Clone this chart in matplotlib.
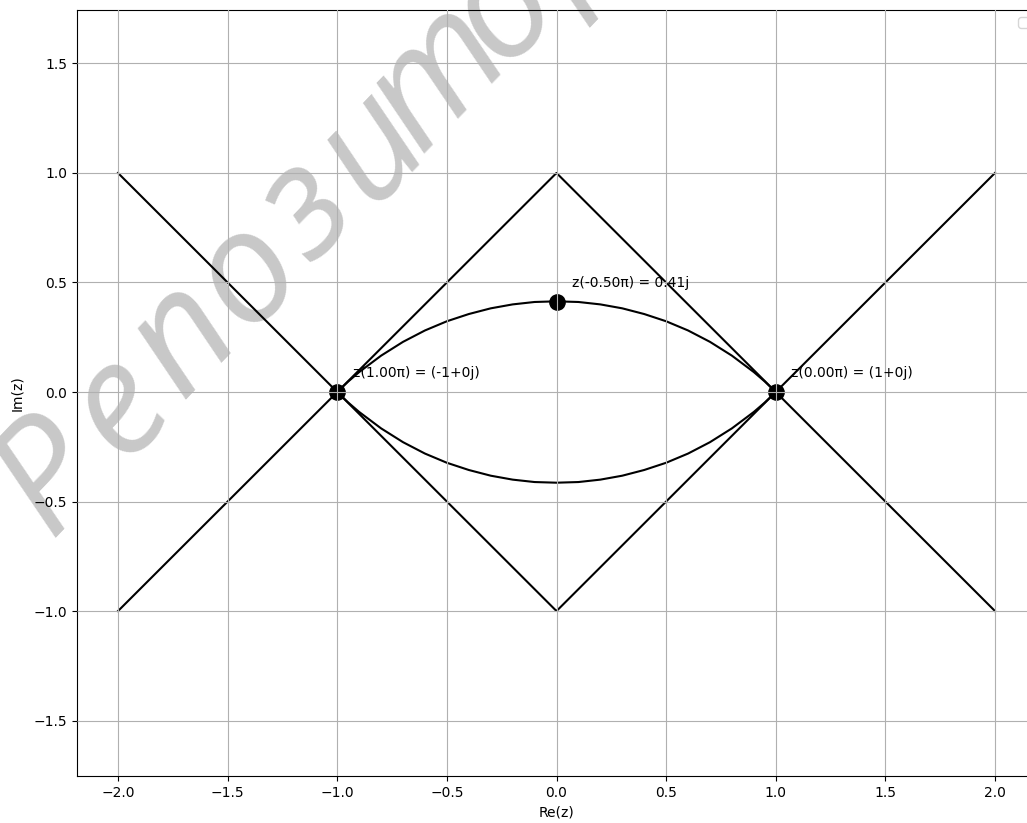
import math
import matplotlib.pyplot as plt

# Lineas quebradas (romboide y las X)
line_x = [-2.0, -1.0, 0.0, 1.0, 2.0]
line1_y = [1.0, 0.0, -1.0, 0.0, 1.0]
line2_y = [-1.0, 0.0, 1.0, 0.0, -1.0]

# Arco superior (el inferior es simetrico)
arc_x = [-1.0, -0.95, -0.9, -0.8, -0.7, -0.6, -0.5, -0.4, -0.3, -0.2, -0.1,
         0.0, 0.1, 0.2, 0.3, 0.4, 0.5, 0.6, 0.7, 0.8, 0.9, 0.95, 1.0]
arc_y = [0.0, 0.048, 0.091, 0.166, 0.229, 0.281, 0.323, 0.356, 0.382, 0.400, 0.411,
         0.414, 0.411, 0.400, 0.382, 0.356, 0.323, 0.281, 0.229, 0.166, 0.091, 0.048, 0.0]

# Puntos marcados
pt_x = [1.0, 0.0, -1.0]
pt_y = [0.0, 0.41, 0.0]
pt_labels = ['z(0.00π) = (1+0j)', 'z(-0.50π) = 0.41j', 'z(1.00π) = (-1+0j)']

W, H = 1027, 823
fig = plt.figure(figsize=(W / 100, H / 100), dpi=100)
ax = fig.add_axes([77 / W, 47 / H, 959 / W, 766 / H])
ax.patch.set_alpha(0)

ax.plot(line_x, line1_y, color='black', lw=1.5)
ax.plot(line_x, line2_y, color='black', lw=1.5)
ax.plot(arc_x, arc_y, color='black', lw=1.5)
ax.plot(arc_x, [-v for v in arc_y], color='black', lw=1.5)

ax.plot(pt_x, pt_y, 'o', color='black', ms=11, zorder=1.5)
for x, y, lab in zip(pt_x, pt_y, pt_labels):
    ax.annotate(lab, (x, y), xytext=(11, 11), textcoords='offset points', fontsize=10)

ax.set_xlim(-2.187, 2.187)
ax.set_ylim(-1.753, 1.744)
ax.set_xticks([-2.0, -1.5, -1.0, -0.5, 0.0, 0.5, 1.0, 1.5, 2.0])
ax.set_yticks([-1.5, -1.0, -0.5, 0.0, 0.5, 1.0, 1.5])
ax.grid(True, zorder=2)
ax.set_axisbelow(False)
ax.set_xlabel('Re(z)')
ax.set_ylabel('Im(z)', labelpad=7)
ax.legend(handles=[], loc='upper right')

# marca de agua, letra por letra a lo largo de una linea inclinada
wm_text = 'Репозитор'
wm_pos = [40, 140, 232, 324, 410, 502, 598, 692, 786]
ang = 46
x0, y0 = 52, 535
for ch, s in zip(wm_text, wm_pos):
    px = x0 + s * math.cos(math.radians(ang))
    py = y0 - s * math.sin(math.radians(ang))
    fig.text(px / W, 1 - py / H, ch, fontsize=112, color='#c8c8c8',
             family='Open Sans', style='italic',
             rotation=ang, rotation_mode='anchor',
             ha='center', va='baseline', zorder=-1)

fig.savefig('out.png', dpi=100)
